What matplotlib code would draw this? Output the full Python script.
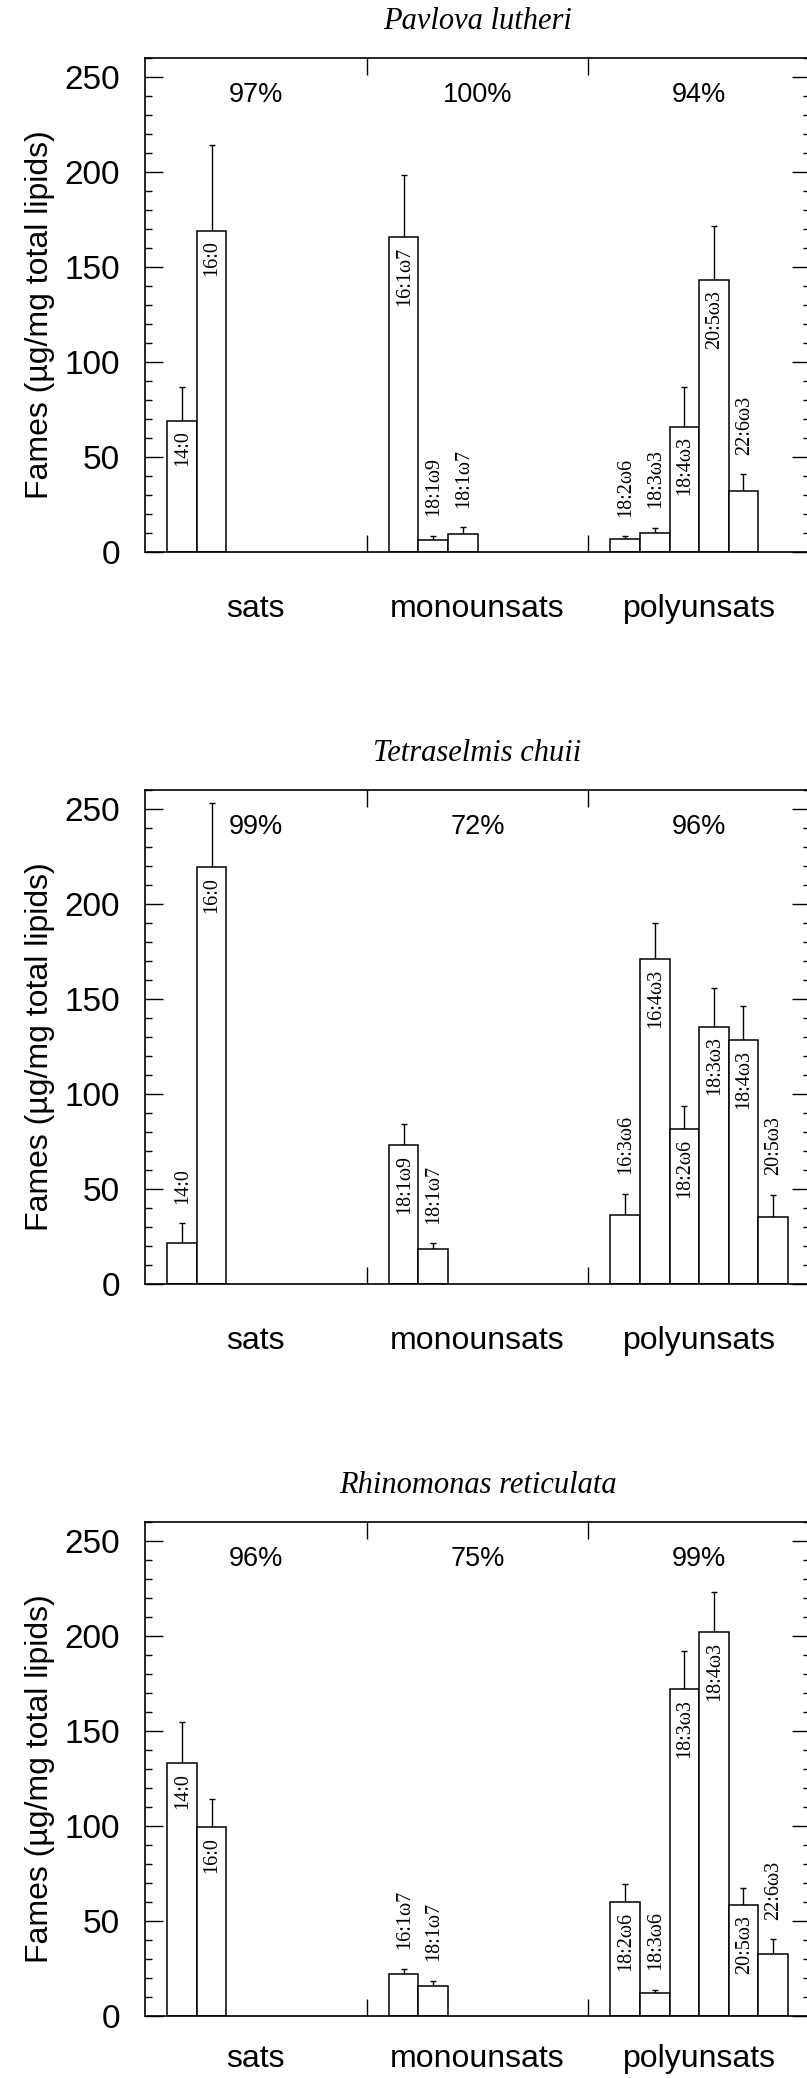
import numpy as np
import matplotlib
matplotlib.use('Agg')
import matplotlib.pyplot as plt
from matplotlib.ticker import MultipleLocator

SANS = 'Liberation Sans'
SERIF = 'Liberation Serif'

groups = ['sats', 'monounsats', 'polyunsats']

# Pavlova lutheri
pav_names = [['14:0', '16:0'],
             ['16:1ω7', '18:1ω9', '18:1ω7'],
             ['18:2ω6', '18:3ω3', '18:4ω3', '20:5ω3', '22:6ω3']]
pav_vals = [[69, 169], [166, 6.5, 9.5], [7, 10, 66, 143, 32]]
pav_errs = [[18, 45], [32.5, 2, 3.4], [1.3, 2.7, 21, 28.5, 9]]
pav_pct = ['97%', '100%', '94%']

# Tetraselmis chuii
tet_names = [['14:0', '16:0'],
             ['18:1ω9', '18:1ω7'],
             ['16:3ω6', '16:4ω3', '18:2ω6', '18:3ω3', '18:4ω3', '20:5ω3']]
tet_vals = [[21.5, 219.5], [73, 18.6], [36.5, 171, 81.5, 135.5, 128.5, 35.5]]
tet_errs = [[10.5, 33.5], [11, 3], [11, 19, 12, 20.5, 18, 11.5]]
tet_pct = ['99%', '72%', '96%']

# Rhinomonas reticulata
rhi_names = [['14:0', '16:0'],
             ['16:1ω7', '18:1ω7'],
             ['18:2ω6', '18:3ω6', '18:3ω3', '18:4ω3', '20:5ω3', '22:6ω3']]
rhi_vals = [[133, 99.5], [22, 16], [60, 12, 172, 202, 58.5, 32.5]]
rhi_errs = [[22, 15], [3, 2.7], [9.5, 1.8, 20, 21, 9, 8]]
rhi_pct = ['96%', '75%', '99%']

panels = [
    ('Pavlova lutheri', pav_names, pav_vals, pav_errs, pav_pct),
    ('Tetraselmis chuii', tet_names, tet_vals, tet_errs, tet_pct),
    ('Rhinomonas reticulata', rhi_names, rhi_vals, rhi_errs, rhi_pct),
]

BAR_W = 0.8 / 6
INSIDE_MIN = 45


def draw_panel(ax, title, names, vals, errs, pct, label_pad=30):
    for g, (nm, v, e) in enumerate(zip(names, vals, errs)):
        x = g + 0.1 + BAR_W * (np.arange(len(v)) + 0.5)
        v = np.array(v, dtype=float)
        e = np.array(e, dtype=float)
        ax.errorbar(x, v, yerr=[np.zeros_like(e), e], fmt='none', ecolor='black',
                    elinewidth=1.0, capsize=2.5, capthick=1.0, zorder=1)
        ax.bar(x, v, width=BAR_W, facecolor='white', edgecolor='black',
               linewidth=1.1, zorder=2)
        for xi, vi, ei, lab in zip(x, v, e, nm):
            if vi >= INSIDE_MIN:
                ax.annotate(lab, (xi, vi), xytext=(0.5, -7), textcoords='offset points',
                            rotation=90, ha='center', va='top', family=SERIF,
                            fontsize=14.5, zorder=3)
            else:
                ax.annotate(lab, (xi, vi + ei), xytext=(0.5, 14), textcoords='offset points',
                            rotation=90, ha='center', va='bottom', family=SERIF,
                            fontsize=14.5, zorder=3)
        ax.text(g + 0.5, 0.925, pct[g], transform=ax.get_xaxis_transform(),
                ha='center', va='center', family=SANS, fontsize=19.5)

    ax.set_xlim(0, 3)
    ax.set_ylim(0, 260)
    ax.yaxis.set_major_locator(MultipleLocator(50))
    ax.yaxis.set_minor_locator(MultipleLocator(10))
    ax.tick_params(axis='y', which='both', direction='in', right=True, width=1.0)
    ax.tick_params(axis='y', which='major', length=13, pad=18, labelsize=24)
    ax.tick_params(axis='y', which='minor', length=5)
    for t in ax.get_yticklabels():
        t.set_family(SANS)

    ax.set_xticks([1, 2])
    ax.set_xticklabels([])
    ax.set_xticks([0.5, 1.5, 2.5], minor=True)
    ax.set_xticklabels(groups, minor=True, family=SANS, fontsize=23)
    ax.tick_params(axis='x', which='major', direction='in', top=True, length=12, width=1.0)
    ax.tick_params(axis='x', which='minor', length=0, pad=label_pad)

    for s in ax.spines.values():
        s.set_linewidth(1.2)

    ax.set_ylabel('Fames (µg/mg total lipids)', family=SANS, fontsize=23)
    ax.yaxis.set_label_coords(-0.135, 0.48)
    ax.set_title(title, family=SERIF, fontstyle='italic', fontsize=22, pad=21)


fig = plt.figure(figsize=(8.07, 20.78), dpi=100)
bottoms = [0.7344, 0.3821, 0.0298]
pads = [30, 30, 20]
for b, p, (title, names, vals, errs, pct) in zip(bottoms, pads, panels):
    ax = fig.add_axes([0.1797, b, 0.824, 0.2377])
    draw_panel(ax, title, names, vals, errs, pct, label_pad=p)

fig.savefig('out.png', dpi=100)
